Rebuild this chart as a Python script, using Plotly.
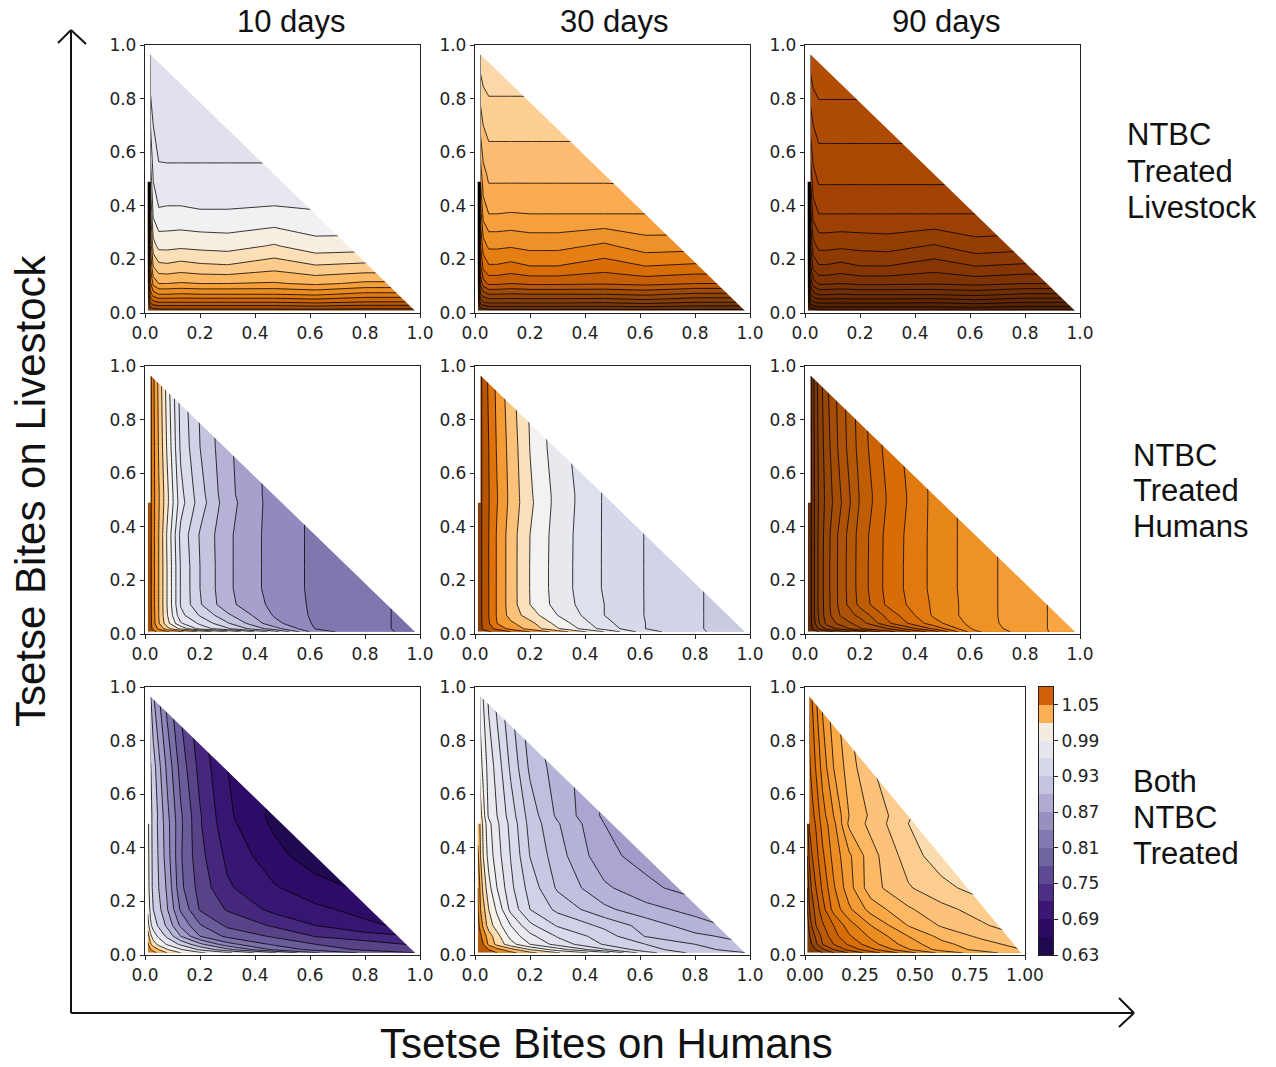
import plotly.graph_objects as go

W, H = 1276, 1067

XS = [0.01, 0.02, 0.03, 0.05, 0.08, 0.13, 0.2, 0.3, 0.47, 0.62, 0.8, 0.99]
YS = [0.008, 0.02, 0.04, 0.07, 0.11, 0.17, 0.25, 0.37, 0.49, 0.52, 0.7, 0.99]

# Values: contour-band position at each (y row, x column)
LIVESTOCK_10 = [
    [0, .3, .4, .5, .5, .5, .5, .5, .5, .5, .5, .5],
    [.1, 1, 1.2, 1.4, 1.4, 1.4, 1.4, 1.4, 1.4, 1.5, 1.3, 1.3],
    [.2, 2.2, 2.7, 3, 3, 3, 3, 3, 3, 3.2, 2.9, 2.9],
    [.4, 3.6, 4.5, 5, 5, 4.9, 5, 5, 5, 5.2, 4.7, 4.7],
    [.6, 4.8, 6.3, 7, 7, 6.9, 7, 7, 6.9, 7.2, 6.8, 6.8],
    [.8, 6, 7.9, 8.6, 8.7, 8.5, 8.7, 8.8, 8.3, 8.8, 8.6, 8.6],
    [1, 7.2, 9.6, 10.3, 10.3, 10.2, 10.3, 10.4, 9.9, 10.6, 10.5, 10.5],
    [1, 8.8, 11.2, 11.85, 11.8, 11.8, 11.9, 11.9, 11.8, 11.9, 12],
    [1, 10.3, 12, 12.6, 12.6, 12.6, 12.6, 12.6, 12.6, 12.7],
    [1, 10.6, 12.2, 12.77, 12.8, 12.8, 12.8, 12.8, 12.8, 12.9],
    [1, 12, 13, 13.7, 13.7, 13.7, 13.7, 13.7, 13.7],
    [1, 14.5, 14.5, 14.5, 14.5, 14.5, 14.5, 14.5],
]
LIVESTOCK_30 = [
    [0, .4, .5, .6, .6, .6, .6, .6, .6, .6, .6, .6],
    [.1, 1.1, 1.3, 1.6, 1.6, 1.6, 1.6, 1.6, 1.6, 1.7, 1.5, 1.5],
    [.2, 2.4, 2.9, 3.2, 3.2, 3.2, 3.2, 3.2, 3.1, 3.4, 3, 3],
    [.4, 3.9, 4.5, 5, 5, 4.9, 5, 5, 5, 5.2, 4.8, 4.8],
    [.6, 5.3, 6.5, 7.2, 7.2, 7, 7.2, 7.2, 7.1, 7.3, 7, 7],
    [.8, 6.7, 8.2, 8.8, 8.8, 8.6, 8.9, 8.9, 8.4, 8.9, 8.7, 8.7],
    [1, 8, 9.5, 10.2, 10.2, 10.1, 10.3, 10.3, 9.8, 10.5, 10.4, 10.4],
    [1, 9.5, 11.4, 12, 12, 11.95, 12, 12, 12, 12, 12.1],
    [1, 11, 12.5, 13.05, 13.05, 13.05, 13.05, 13.05, 13.05, 13.1],
    [1, 11.5, 12.7, 13.2, 13.2, 13.2, 13.2, 13.2, 13.2, 13.3],
    [1, 13.4, 14, 14.4, 14.4, 14.4, 14.4, 14.4, 14.4],
    [1, 15.8, 16, 16, 16, 16, 16, 16],
]
LIVESTOCK_90 = [
    [0, .4, .5, .7, .7, .7, .7, .7, .7, .7, .7, .7],
    [.1, 1.1, 1.4, 1.8, 1.8, 1.8, 1.8, 1.8, 1.8, 1.9, 1.7, 1.7],
    [.2, 2.4, 2.9, 3.2, 3.2, 3.2, 3.2, 3.2, 3.1, 3.4, 3, 3],
    [.4, 3.9, 4.6, 5.1, 5.1, 5, 5.1, 5.1, 5.1, 5.3, 4.9, 4.9],
    [.6, 5.3, 6.5, 7.15, 7.15, 7, 7.2, 7.2, 7.1, 7.3, 7, 7],
    [.8, 6.7, 8.2, 8.8, 8.8, 8.6, 8.9, 8.9, 8.4, 8.9, 8.7, 8.7],
    [1, 8, 9.6, 10.3, 10.3, 10.2, 10.3, 10.4, 9.9, 10.6, 10.4, 10.4],
    [1, 9.5, 11.4, 12, 12, 12, 12, 12, 12, 12, 12.1],
    [1, 11, 12.6, 13.1, 13.1, 13.1, 13.1, 13.1, 13.1, 13.1],
    [1, 11.5, 12.8, 13.25, 13.25, 13.25, 13.25, 13.25, 13.25, 13.3],
    [1, 13.4, 14, 14.45, 14.45, 14.45, 14.45, 14.45, 14.45],
    [1, 15.8, 16.1, 16.1, 16.1, 16.1, 16.1, 16.1],
]
HUMANS_10 = [
    [.1, .4, .7, 1.2, 1.8, 2.8, 4.2, 6, 9.5, 13.6, 14.6, 15.3],
    [.2, .6, 1.3, 2.2, 3.6, 5.3, 7.4, 8.85, 11.6, 14.05, 14.7, 15.3],
    [.3, .7, 1.6, 2.9, 4.6, 6.9, 8.2, 9.9, 12.7, 14.15, 14.7, 15.3],
    [.3, .7, 1.6, 3, 4.9, 7.7, 9.1, 10.8, 13.1, 14.2, 14.7, 15.3],
    [.3, .7, 1.7, 3, 5, 8.1, 9.9, 11.7, 13.3, 14.2, 14.7, 15.3],
    [.3, .7, 1.7, 3, 5, 8.1, 10, 11.8, 13.45, 14.2, 14.7, 15.3],
    [.3, .7, 1.7, 3, 5, 8.1, 10, 11.8, 13.45, 14.2, 14.7, 15.3],
    [.3, .7, 1.7, 3, 5.1, 8.3, 10.1, 11.8, 13.45, 14.2, 14.7],
    [.3, .7, 1.7, 2.9, 4.7, 7.6, 9.5, 11.6, 13.45, 14.2],
    [.3, .7, 1.7, 2.9, 4.7, 7.7, 9.6, 11.7, 13.45, 14.2],
    [.3, .7, 1.7, 3.1, 5.1, 8.2, 10, 11.8, 13.45],
    [.3, .7, 1.8, 3.3, 5.5, 8.5, 10.2, 12],
]
HUMANS_30 = [
    [.1, .4, .6, .9, 1.3, 2, 3, 4.4, 7, 9.6, 10.8, 11.7],
    [.2, .6, 1.2, 1.6, 2.3, 3.35, 4.35, 5.9, 8.4, 10, 10.86, 11.7],
    [.3, .7, 1.3, 1.9, 3, 3.8, 4.7, 6.35, 8.7, 10, 10.86, 11.7],
    [.3, .7, 1.33, 2, 3.1, 4.4, 5.5, 7, 9, 10.04, 10.86, 11.7],
    [.3, .7, 1.33, 2, 3.1, 4.5, 6, 7.4, 9, 10.04, 10.86, 11.7],
    [.3, .7, 1.33, 2, 3.1, 4.5, 6.03, 7.47, 9.1, 10.04, 10.86, 11.7],
    [.3, .7, 1.33, 2, 3.1, 4.5, 6.03, 7.47, 9.1, 10.04, 10.86, 11.7],
    [.3, .7, 1.33, 2, 3.1, 4.5, 6, 7.45, 9.1, 10.04, 10.86],
    [.3, .7, 1.33, 1.95, 2.95, 4.3, 5.8, 7.35, 9.1, 10.04],
    [.3, .7, 1.33, 1.95, 2.95, 4.3, 5.85, 7.35, 9.1, 10.04],
    [.3, .7, 1.33, 2, 3.1, 4.4, 6.03, 7.6, 9.1],
    [.3, .7, 1.4, 2.2, 3.3, 4.7, 6.2, 7.8],
]
HUMANS_90 = [
    [.1, .4, .6, 1, 1.5, 2.5, 3.5, 5.5, 8.5, 12.8, 14.5, 15.6],
    [.2, .6, 1.2, 2.1, 3.4, 4.3, 5.9, 7, 10.25, 13.3, 14.55, 15.6],
    [.3, .7, 1.5, 2.9, 4.3, 5.4, 6.45, 8.8, 11.6, 13.5, 14.55, 15.6],
    [.3, .7, 1.7, 3.1, 4.6, 6.1, 7.3, 9.3, 12.2, 13.55, 14.55, 15.6],
    [.3, .7, 1.7, 3.2, 4.6, 6.4, 8.3, 10.2, 12.2, 13.55, 14.55, 15.6],
    [.3, .7, 1.7, 3.2, 4.64, 6.43, 8.43, 10.33, 12.3, 13.55, 14.55, 15.6],
    [.3, .7, 1.7, 3.2, 4.64, 6.43, 8.43, 10.33, 12.3, 13.55, 14.55, 15.6],
    [.3, .7, 1.7, 3.2, 4.6, 6.4, 8.4, 10.3, 12.3, 13.55, 14.55],
    [.3, .7, 1.7, 3.1, 4.4, 5.9, 8.1, 10.1, 12.3, 13.55],
    [.3, .7, 1.7, 3.1, 4.4, 6, 8.1, 10.1, 12.3, 13.55],
    [.3, .7, 1.7, 3.2, 4.6, 6.4, 8.4, 10.4, 12.3],
    [.3, .7, 1.8, 3.4, 4.9, 6.6, 8.6, 10.6],
]
BOTH_10 = [
    [.1, .4, .7, 1.2, 2, 3, 3.8, 4.8, 6.9, 8.9, 10.2, 11],
    [.3, .9, 1.3, 2, 2.9, 3.9, 5.15, 6.7, 9.2, 10.35, 11.2, 11.8],
    [.8, 1.8, 2.5, 3.3, 4.1, 5.2, 6.75, 8.65, 10.2, 11, 11.55, 12.15],
    [1.5, 2.7, 3.5, 4.2, 5.2, 7, 9, 10.25, 11.15, 12.05, 12.55, 13],
    [2.5, 3.8, 4.4, 5.2, 6.2, 8.2, 9.9, 11.2, 12.15, 13, 13.8, 14.3],
    [3.2, 4.3, 5, 5.7, 6.9, 9.15, 11.1, 12.1, 13.3, 13.8, 14.3, 14.8],
    [3.6, 4.5, 5.3, 6, 7.15, 9.75, 11.4, 12.85, 13.9, 14.55, 15.2, 15.8],
    [3.7, 4.5, 5.4, 6.1, 7.5, 9.9, 11.7, 13.25, 14.65, 15.6, 16],
    [3.8, 4.6, 5.4, 6.2, 7.6, 9.8, 11.9, 13.7, 15.2, 16],
    [4, 4.7, 5.3, 6.2, 7.7, 9.85, 11.9, 13.8, 15.3, 16],
    [4, 4.9, 5.5, 6.7, 8.2, 10.4, 12.35, 14, 15],
    [4, 6, 7, 8, 9.5, 11.3, 13, 14.5],
]
BOTH_30 = [
    [.05, .2, .3, .6, 1, 1.7, 2.7, 3.9, 5.6, 8.6, 10.3, 11],
    [.15, .4, .6, 1, 1.6, 2.6, 4, 5.45, 7.85, 9.6, 10.65, 11.5],
    [.3, .7, 1, 2.2, 3.3, 4.6, 6, 7.4, 9.1, 10, 11, 11.9],
    [.4, .8, 1.4, 2.5, 3.6, 5.35, 6.7, 8.1, 9.5, 11.05, 11.75, 12.4],
    [.6, 1.4, 2.2, 3.5, 4.5, 6, 7.75, 9.1, 10.25, 11.4, 12.55, 13.4],
    [.9, 2, 2.65, 4, 5.2, 7.3, 9, 10.25, 11.75, 12.65, 13.35, 13.9],
    [1, 2.3, 3.3, 4.65, 6, 7.75, 9.4, 11.15, 12.8, 13.7, 14.5, 15],
    [1.7, 3, 4, 5.4, 6.55, 8.05, 10.03, 11.55, 13.7, 14.4, 15],
    [2.6, 3.1, 4.3, 5.7, 6.8, 8.3, 10.35, 11.9, 14, 15],
    [2.7, 3.6, 4.6, 6.2, 7, 8.5, 10.45, 12.2, 14.2, 15.1],
    [3, 4.6, 5.3, 6.4, 7.4, 9.2, 11.2, 12.5, 14],
    [3, 5.5, 6.1, 7.3, 8.4, 10, 12, 13.5],
]
BOTH_90 = [
    [.05, .2, .3, .6, 1, 2, 3.1, 4.5, 6.6, 8.3, 9.6, 10.6],
    [.15, .4, .6, 1, 1.75, 3, 4.3, 5.7, 7.9, 9.4, 10.3, 11],
    [.3, .65, 1, 1.8, 3, 4, 5.15, 6.6, 8.5, 9.7, 10.6, 11.4],
    [.4, .9, 1.4, 2.2, 3.3, 4.6, 5.85, 7.2, 9, 10.3, 11.2, 12],
    [.6, 1.3, 2, 3, 3.85, 5, 6.5, 8, 10.05, 11.1, 11.85, 12.6],
    [.9, 2, 2.5, 3.4, 4.6, 6.35, 7.8, 9.4, 10.85, 11.7, 12.4, 13],
    [1, 2.5, 3.1, 4, 5.2, 6.85, 8.6, 10.6, 11.9, 12.65, 13.5, 14],
    [2, 3.15, 3.9, 4.65, 5.8, 7.35, 8.8, 10.6, 12.5, 13.6, 14.2],
    [2.6, 4.2, 4.5, 5.1, 6.4, 7.7, 10.2, 11.3, 13, 14],
    [2.7, 4.3, 4.6, 5.3, 6.6, 8, 10, 11.2, 12.9, 13.9],
    [3, 4.8, 5.3, 6.1, 7.4, 9, 10.5, 11.9, 13.2],
    [3, 5.5, 6, 7, 8.3, 9.7, 11.2, 12.6],
]
PANELS = [LIVESTOCK_10, LIVESTOCK_30, LIVESTOCK_90,
          HUMANS_10, HUMANS_30, HUMANS_90,
          BOTH_10, BOTH_30, BOTH_90]

# Band colours of each panel, lowest band first
BANDS = [
    ["#7f3b08", "#a04e07", "#b85b06", "#cc6606", "#dd7a10", "#ea8c22", "#f59e3a", "#fdb863",
     "#fdcb8c", "#fbdfb8", "#f6eee0", "#f1f1f3", "#e7e8ef", "#e1e1ee"],
    ["#5c2a04", "#6b3106", "#7a3807", "#863e07", "#934507", "#a04c07", "#b95607", "#c85f05",
     "#d86d06", "#e57f13", "#ee9128", "#f69f3d", "#fbab52", "#fdbc72", "#fdcf93", "#fcd8a8"],
    ["#431c02", "#4e2103", "#582503", "#622805", "#6a2b05", "#712e05", "#783105", "#7f3305",
     "#863605", "#8d3a04", "#953e04", "#9c4103", "#a34303", "#a94703", "#ad4a03", "#b14d04"],
    ["#a04c07", "#e07b12", "#f9a13f", "#fdc985", "#fde5c5", "#f5f2ee", "#ecedf2", "#e4e5f0",
     "#dcddec", "#d2d3e8", "#c4c4df", "#b5b2d6", "#a5a0cc", "#928abe", "#8077ae", "#7a70aa"],
    ["#8a3f07", "#b85505", "#e0720a", "#f59b35", "#fdc27a", "#fbe0bc", "#f3f2f0", "#e8e8ef",
     "#dfe0ed", "#d7d8ea", "#d2d3e8", "#cacbe3"],
    ["#5e2a05", "#6f3206", "#7f3b08", "#8b4107", "#974707", "#a44d07", "#ad5206", "#b35806",
     "#bf5d05", "#cc6405", "#d86c06", "#e07a10", "#e88719", "#ee9126", "#f39b35", "#f9a544"],
    ["#e08214", "#fdb863", "#fde0b6", "#f3f3f3", "#e2e3ee", "#cccce4", "#b5b2d6", "#a09ac7",
     "#8e84ba", "#7c70a9", "#6a5b9b", "#584389", "#45287d", "#371573", "#2d0b66", "#1f0950"],
    ["#b85a06", "#e88a1a", "#fdb863", "#fddcad", "#f8f2e6", "#f1f1f3", "#e9e9f0", "#e1e2ee",
     "#d9daeb", "#d1d2e7", "#c8c8e2", "#bfbfde", "#b5b3d8", "#aba6d1", "#a29bca"],
    ["#7f3b08", "#974707", "#a9510a", "#b85a06", "#c96204", "#d76d07", "#e27d12", "#eb8c22",
     "#f39b35", "#f9a845", "#fdb863", "#fdc27a", "#fdcd90", "#fbdcaf"],
]

# Colour bar
CB_EDGES = [0.63, 0.66, 0.69, 0.72, 0.75, 0.78, 0.81, 0.84, 0.87, 0.90, 0.93, 0.96, 0.99, 1.02, 1.05, 1.08]
CB_COLORS = ["#200a4f", "#2d0b65", "#3c1675", "#4d2f85", "#5e4a92", "#70649f", "#8478b0", "#9a90c0",
             "#b0aad0", "#c5c5e2", "#d6d8e9", "#e5e6ee", "#f3ece0", "#fdaf55", "#cf5f08"]
CB_TICKS = [0.63, 0.69, 0.75, 0.81, 0.87, 0.93, 0.99, 1.05]

COL_TITLES = ["10 days", "30 days", "90 days"]
ROW_LABELS = [["NTBC", "Treated", "Livestock"], ["NTBC", "Treated", "Humans"], ["Both", "NTBC", "Treated"]]
X_LABEL = "Tsetse Bites on Humans"
Y_LABEL = "Tsetse Bites on Livestock"

# Layout (pixels)
COL_X = [(145, 420), (475, 750), (805, 1080)]
ROW_Y = [(45, 313), (366, 634), (687, 955)]
LAST_X = (805, 1025)
CB_X = (1039, 1053)
TICK = dict(size=17, family="DejaVu Sans", color="#222")
FRAME = "#222"


def fx(p):
    return p / W


def fy(p):
    return 1 - p / H


def pad(rows):
    return [r + [None] * (len(XS) - len(r)) for r in rows]


fig = go.Figure()
layout = {}
shapes = []
# area of each panel that carries no data: above the line x + y = 0.99 and left of the sampled range
EMPTY = "M0,0.49 L0.02,0.49 L0.02,0.965 L0.99,0 L1,0 L1,1 L0,1 Z"

for i, (rows, colors) in enumerate(zip(PANELS, BANDS)):
    r, c = divmod(i, 3)
    n = len(colors) - 1
    name = "" if i == 0 else str(i + 1)
    fig.add_trace(go.Contour(
        x=XS, y=YS, z=pad(rows),
        xaxis="x" + name, yaxis="y" + name,
        autocontour=False,
        contours=dict(start=1, end=n, size=1, coloring="fill", showlines=True),
        colorscale=[[k / n, col] for k, col in enumerate(colors)],
        line=dict(color="rgba(0,0,0,0.8)", width=1, smoothing=0),
        showscale=False, hoverinfo="skip",
    ))
    xr = LAST_X if i == 8 else COL_X[c]
    yr = ROW_Y[r]
    xa = dict(domain=[fx(xr[0]), fx(xr[1])], range=[0, 1], anchor="y" + name, showgrid=False, zeroline=False,
              showline=True, mirror=True, linecolor=FRAME, linewidth=1.3, ticks="outside", ticklen=4,
              tickwidth=1.2, tickcolor=FRAME, tickfont=TICK)
    if i == 8:
        xa.update(tickvals=[0, 0.25, 0.5, 0.75, 1.0], tickformat=".2f")
    else:
        xa.update(tickvals=[0, 0.2, 0.4, 0.6, 0.8, 1.0], tickformat=".1f")
    ya = dict(domain=[fy(yr[1]), fy(yr[0])], range=[0, 1], anchor="x" + name, showgrid=False, zeroline=False,
              showline=True, mirror=True, linecolor=FRAME, linewidth=1.3, ticks="outside", ticklen=4,
              tickwidth=1.2, tickcolor=FRAME, tickfont=TICK,
              tickvals=[0, 0.2, 0.4, 0.6, 0.8, 1.0], tickformat=".1f")
    layout["xaxis" + name] = xa
    layout["yaxis" + name] = ya
    shapes.append(dict(type="path", path=EMPTY, xref="x" + name, yref="y" + name,
                       fillcolor="white", line=dict(width=0), layer="above"))

# colour bar drawn as its own small axes
n = len(CB_COLORS) - 1
fig.add_trace(go.Heatmap(
    x=[0, 1], y=CB_EDGES, z=[[k] for k in range(len(CB_COLORS))],
    xaxis="x10", yaxis="y10", zmin=0, zmax=n,
    colorscale=[[k / n, col] for k, col in enumerate(CB_COLORS)],
    showscale=False, hoverinfo="skip",
))
layout["xaxis10"] = dict(domain=[fx(CB_X[0]), fx(CB_X[1])], range=[0, 1], anchor="y10", showticklabels=False,
                         ticks="", showgrid=False, zeroline=False, showline=True, mirror=True,
                         linecolor=FRAME, linewidth=1.2)
layout["yaxis10"] = dict(domain=[fy(ROW_Y[2][1]), fy(ROW_Y[2][0])], range=[CB_EDGES[0], CB_EDGES[-1]],
                         anchor="x10", side="right", tickvals=CB_TICKS, tickformat=".2f", ticks="outside",
                         ticklen=4, tickwidth=1.2, tickcolor=FRAME, tickfont=TICK, showgrid=False,
                         zeroline=False, showline=True, mirror=True, linecolor=FRAME, linewidth=1.2)

# big axis arrows
ARROWS = [
    ((71, 1013), (71, 30)), ((58, 43), (71, 30)), ((86, 44), (71, 30)),
    ((71, 1013), (1134, 1013)), ((1119, 998), (1134, 1013)), ((1119, 1027), (1134, 1013)),
]
for (x0, y0), (x1, y1) in ARROWS:
    shapes.append(dict(type="line", xref="paper", yref="paper", x0=fx(x0), y0=fy(y0), x1=fx(x1), y1=fy(y1),
                       line=dict(color="#111", width=2)))

FONT = "Liberation Sans"
ann = []
for t, cx in zip(COL_TITLES, [291, 614, 946]):
    ann.append(dict(text=t, x=fx(cx), y=fy(21), xref="paper", yref="paper", xanchor="center", yanchor="middle",
                    showarrow=False, font=dict(family=FONT, size=31, color="#111")))
for lines, lx, ys in zip(ROW_LABELS, [1125, 1131, 1131], [(135, 171, 207), (455, 491, 527), (781, 817, 853)]):
    for t, ly in zip(lines, ys):
        ann.append(dict(text=t, x=fx(lx), y=fy(ly), xref="paper", yref="paper", xanchor="left", yanchor="middle",
                        showarrow=False, font=dict(family=FONT, size=31, color="#111")))
ann.append(dict(text=X_LABEL, x=fx(606), y=fy(1043), xref="paper", yref="paper", xanchor="center", yanchor="middle",
                showarrow=False, font=dict(family=FONT, size=42, color="#111")))
ann.append(dict(text=Y_LABEL, x=fx(31), y=fy(491), xref="paper", yref="paper", xanchor="center", yanchor="middle",
                textangle=-90, showarrow=False, font=dict(family=FONT, size=42, color="#111")))

fig.update_layout(width=W, height=H, margin=dict(l=0, r=0, t=0, b=0, autoexpand=False), paper_bgcolor="white",
                  plot_bgcolor="white", showlegend=False, shapes=shapes, annotations=ann, **layout)
fig.write_html("out.html", config={"displayModeBar": False}, post_script="document.body.style.margin='0';")
